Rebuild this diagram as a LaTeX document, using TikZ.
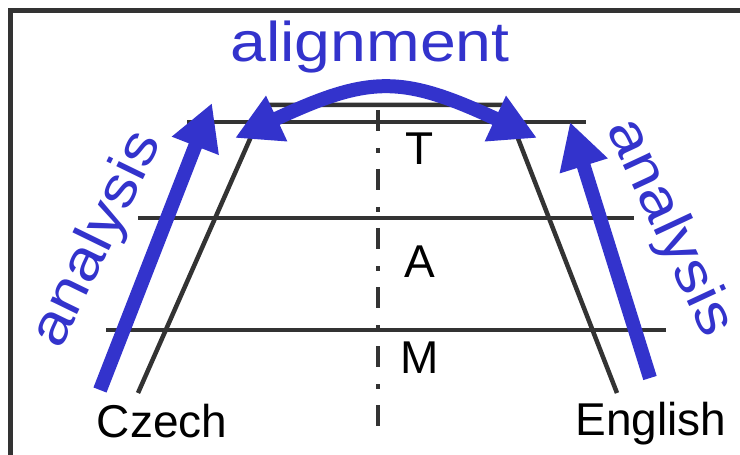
\documentclass[tikz,border=0pt]{standalone}
\usepackage{fontspec}
\setmainfont{Liberation Sans}
\newfontfamily\widefont[FakeStretch=1.15]{Liberation Sans}
\usetikzlibrary{arrows.meta}
\definecolor{cblue}{HTML}{3333CC}
\definecolor{cdark}{HTML}{333333}
\tikzset{
  bigtip/.tip={Triangle[length=46bp, width=47bp]},
  frame/.style={draw=cdark, line width=5bp},
  level/.style={draw=cdark, line width=4.5bp},
  axis/.style={draw=cdark, line width=4bp, dash pattern=on 21bp off 17bp on 5bp off 16bp},
  bigarrow/.style={-bigtip, draw=cblue, line width=14bp},
  bothways/.style={bigtip-bigtip, draw=cblue, line width=14bp},
  lbl/.style={font=\fontsize{46bp}{50bp}\selectfont, inner sep=0pt},
  bluelbl/.style={font=\widefont\fontsize{56bp}{60bp}\selectfont, text=cblue, inner sep=0pt},
}
\begin{document}
\begin{tikzpicture}[x=1bp, y=-1bp]
  \useasboundingbox (0,0) rectangle (740,455);
  \clip (0,0) rectangle (740,455);
  % slide frame, cut by the right and bottom edges
  \draw[frame] (10,480) -- (10,11) -- (760,11);
  % sides of the pyramid
  \coordinate (czechtop) at (265,105);
  \coordinate (czechfoot) at (138,393);
  \coordinate (engtop) at (505,105);
  \coordinate (engfoot) at (617,393);
  \draw[level] (czechfoot) -- (czechtop) -- (engtop) -- (engfoot);
  % levels: name, height, left end, right end, baseline of the label
  \foreach \name/\y/\xl/\xr/\b in {T/122/187/586/165, A/218/138/634/278, M/330/106/666/373} {
    \draw[level] (\xl,\y) -- (\xr,\y);
    \node[lbl, anchor=base] (lab\name) at (420,\b) {\name};
  }
  \coordinate (axistop) at (378,110);
  \coordinate (axisfoot) at (378,427);
  \draw[axis] (axistop) -- (axisfoot);
  \node[lbl, anchor=base] (czech) at (162,437) {Czech};
  \node[lbl, anchor=base] (english) at (651,435) {English};
  % blue arrows
  \coordinate (czechstart) at (100,390);
  \coordinate (czechend) at (212,103);
  \coordinate (engstart) at (650,378);
  \coordinate (engend) at (570,122);
  \coordinate (alignleft) at (235,138);
  \coordinate (alignright) at (537,138);
  \draw[bigarrow] (czechstart) -- (czechend);
  \draw[bigarrow] (engstart) -- (engend);
  \draw[bothways] (alignleft) .. controls (370,75) and (402,75) .. (alignright);
  \node[bluelbl, anchor=base] (alignment) at (370,62) {alignment};
  \node[bluelbl, rotate=64] (anaczech) at (98,240) {analysis};
  \node[bluelbl, rotate=-65] (anaeng) at (669,228) {analysis};
\end{tikzpicture}
\end{document}
